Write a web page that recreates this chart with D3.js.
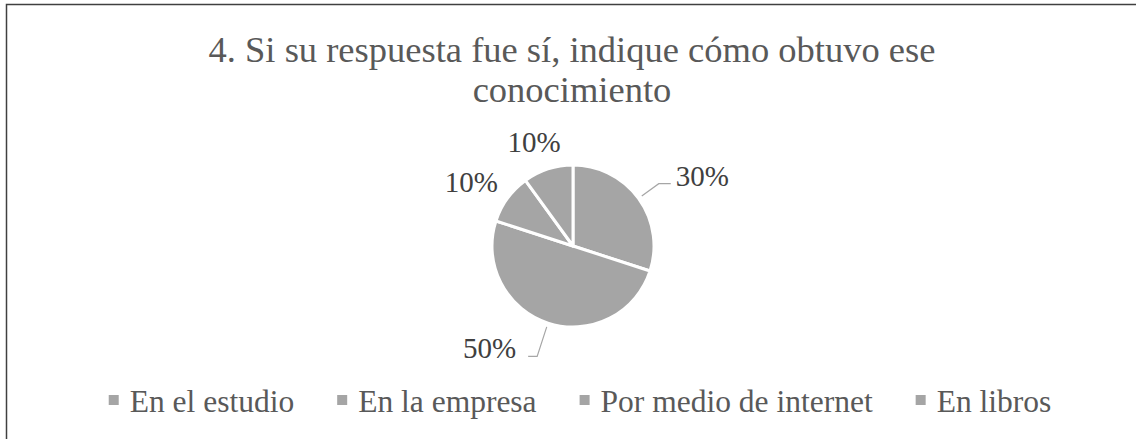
<!DOCTYPE html>
<html>
<head>
<meta charset="utf-8">
<script src="https://cdn.jsdelivr.net/npm/d3@7"></script>
</head>
<body style="margin:0">
<svg id="chart" width="1136" height="439"></svg>
<script>
// data
var categories = ['En el estudio', 'En la empresa', 'Por medio de internet', 'En libros'];
var values = [30, 50, 10, 10];
var titleLines = ['4. Si su respuesta fue sí, indique cómo obtuvo ese', 'conocimiento'];

var W = 1136, H = 439;
var cx = 573, cy = 246, radius = 81;
var sliceColor = '#a5a5a5';
var fontFamily = '"Liberation Serif", "Times New Roman", serif';
var labelFont = 29;
var legendFont = 31.5;

// text widths measured on a canvas (keeps the svg text untouched)
var measureCtx = document.createElement('canvas').getContext('2d');
function textWidth(str, size) {
  measureCtx.font = size + 'px ' + fontFamily;
  return measureCtx.measureText(str).width;
}

// point on a circle of radius r at angle a (d3 pie angles, 0 = top, clockwise)
function polar(a, r) {
  return [Math.sin(a) * r, -Math.cos(a) * r];
}

var svg = d3.select('#chart');

// chart border (right / bottom are cut off in the original)
svg.append('rect')
  .attr('x', 6.5).attr('y', 4.5)
  .attr('width', W + 20).attr('height', H + 20)
  .attr('fill', '#fff')
  .attr('stroke', '#404040')
  .attr('stroke-width', 1.5);

// title
svg.append('g').selectAll('text')
  .data(titleLines)
  .enter().append('text')
  .attr('x', 572)
  .attr('y', function(d, i) { return 62 + i * 40; })
  .attr('text-anchor', 'middle')
  .attr('fill', '#595959')
  .style('font-family', fontFamily)
  .style('font-size', '36.5px')
  .text(function(d) { return d; });

var total = d3.sum(values);
var pie = d3.pie().sort(null).value(function(d) { return d; });
var arcs = pie(values);
var arc = d3.arc().innerRadius(0).outerRadius(radius);

var g = svg.append('g').attr('transform', 'translate(' + cx + ',' + cy + ')');

g.selectAll('path')
  .data(arcs)
  .enter().append('path')
  .attr('d', arc)
  .attr('fill', sliceColor)
  .attr('stroke', '#fff')
  .attr('stroke-width', 3)
  .attr('stroke-linejoin', 'round');

arcs.forEach(function(d) {
  var mid = (d.startAngle + d.endAngle) / 2;
  var pct = Math.round(d.value / total * 100) + '%';
  var right = Math.sin(mid) >= 0;

  if (d.value / total >= 0.2) {
    // label outside with a leader line
    var p0 = polar(mid, radius + 4);
    var p1 = polar(mid, right ? 106 : 116);
    var p2 = [p1[0] + (right ? 12 : -9), p1[1]];
    g.append('polyline')
      .attr('points', [p0, p1, p2].map(function(p) { return p.join(','); }).join(' '))
      .attr('fill', 'none')
      .attr('stroke', '#a6a6a6')
      .attr('stroke-width', 1.2);
    g.append('text')
      .attr('x', p2[0] + (right ? 5 : -12))
      .attr('y', p1[1] + 2)
      .attr('text-anchor', right ? 'start' : 'end')
      .attr('fill', '#404040')
      .style('font-family', fontFamily)
      .style('font-size', labelFont + 'px')
      .text(pct);
  } else {
    // small slice: label sits just outside the edge
    var p = polar(mid, 99);
    var halfW = textWidth(pct, labelFont) / 2;
    g.append('text')
      .attr('x', p[0] + Math.sin(mid) * halfW)
      .attr('y', p[1] - Math.cos(mid) * 10 + 10)
      .attr('fill', '#404040')
      .attr('text-anchor', 'middle')
      .style('font-family', fontFamily)
      .style('font-size', labelFont + 'px')
      .text(pct);
  }
});

// legend: marker, 11px gap, text, 43px gap to next marker
var offsets = [];
var xPos = 0;
categories.forEach(function(c) {
  offsets.push(xPos);
  xPos += 21 + textWidth(c, legendFont) + 43;
});
var legendWidth = xPos - 43;

var legend = svg.append('g')
  .attr('transform', 'translate(' + (580 - legendWidth / 2) + ',412)');

var items = legend.selectAll('g')
  .data(categories)
  .enter().append('g')
  .attr('transform', function(d, i) { return 'translate(' + offsets[i] + ',0)'; });

items.append('rect')
  .attr('width', 10).attr('height', 10)
  .attr('y', -17)
  .attr('fill', sliceColor);

items.append('text')
  .attr('x', 21)
  .attr('fill', '#595959')
  .style('font-family', fontFamily)
  .style('font-size', legendFont + 'px')
  .text(function(d) { return d; });
</script>
</body>
</html>
